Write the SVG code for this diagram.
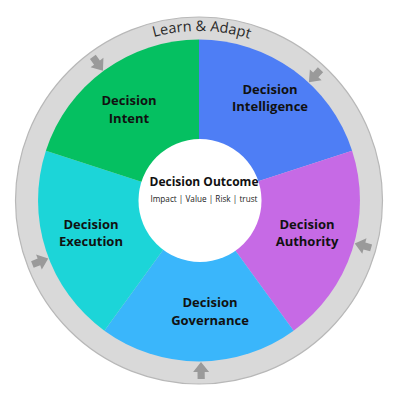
<svg xmlns="http://www.w3.org/2000/svg" width="400" height="400" viewBox="0 0 400 400">
<defs>
<style>
.lbl{font-family:"Open Sans","Liberation Sans",sans-serif;font-weight:700;font-size:13px;fill:#111;text-anchor:middle}
.ttl{font-family:"Open Sans","Liberation Sans",sans-serif;font-weight:700;font-size:12px;fill:#111;text-anchor:middle}
.sub{font-family:"Open Sans","Liberation Sans",sans-serif;font-size:8.2px;fill:#222;text-anchor:middle}
.ring{font-family:"Open Sans","Liberation Sans",sans-serif;font-size:14.5px;fill:#2a2a2a}
.arr{fill:#9a9a9a}
</style>
<path id="arrow" d="M0,-9.5 L8,0.5 L3.6,0.5 L3.6,7.5 L-3.6,7.5 L-3.6,0.5 L-8,0.5 Z"/>
<path id="tp" d="M29.5,200.5 A169.5,169.5 0 0 1 368.5,200.5"/>
</defs>
<rect width="400" height="400" fill="#fff"/>
<g id="cycle">
<circle cx="199" cy="200.5" r="183.5" fill="#d9d9d9" stroke="#b8b8b8" stroke-width="1.2"/>
<text class="ring"><textPath href="#tp" startOffset="50.5%" text-anchor="middle">Learn &amp; Adapt</textPath></text>
</g>
<g id="connectors">
<use href="#arrow" class="arr" transform="translate(97.3,63) rotate(143.5)"/>
<use href="#arrow" class="arr" transform="translate(315.4,75.2) rotate(222.9)"/>
<use href="#arrow" class="arr" transform="translate(363.9,245.9) rotate(-74.6)"/>
<use href="#arrow" class="arr" transform="translate(201.1,371.5) rotate(-0.7)"/>
<use href="#arrow" class="arr" transform="translate(39.4,261.8) rotate(69)"/>
</g>
<g id="intelligence">
<path d="M199,200.5 L199,39.5 A161,161 0 0 1 352.1,150.75 Z" fill="#4e7ef5"/>
<text class="lbl" x="270" y="94">Decision</text>
<text class="lbl" x="270" y="111">Intelligence</text>
</g>
<g id="authority">
<path d="M199,200.5 L352.1,150.75 A161,161 0 0 1 293.6,330.7 Z" fill="#c66ae5"/>
<text class="lbl" x="307" y="229">Decision</text>
<text class="lbl" x="307" y="246">Authority</text>
</g>
<g id="governance">
<path d="M199,200.5 L293.6,330.7 A161,161 0 0 1 104.4,330.7 Z" fill="#3ab6fb"/>
<text class="lbl" x="210" y="307">Decision</text>
<text class="lbl" x="210" y="325">Governance</text>
</g>
<g id="execution">
<path d="M199,200.5 L104.4,330.7 A161,161 0 0 1 45.9,150.75 Z" fill="#1cd5d8"/>
<text class="lbl" x="91" y="229">Decision</text>
<text class="lbl" x="91" y="246">Execution</text>
</g>
<g id="intent">
<path d="M199,200.5 L45.9,150.75 A161,161 0 0 1 199,39.5 Z" fill="#05c061"/>
<text class="lbl" x="129" y="105">Decision</text>
<text class="lbl" x="129" y="123">Intent</text>
</g>
<g id="outcome">
<circle cx="200" cy="200.5" r="61.5" fill="#fff"/>
<text class="ttl" x="204" y="186">Decision Outcome</text>
<text class="sub" x="204" y="202">Impact | Value | Risk | trust</text>
</g>
</svg>
